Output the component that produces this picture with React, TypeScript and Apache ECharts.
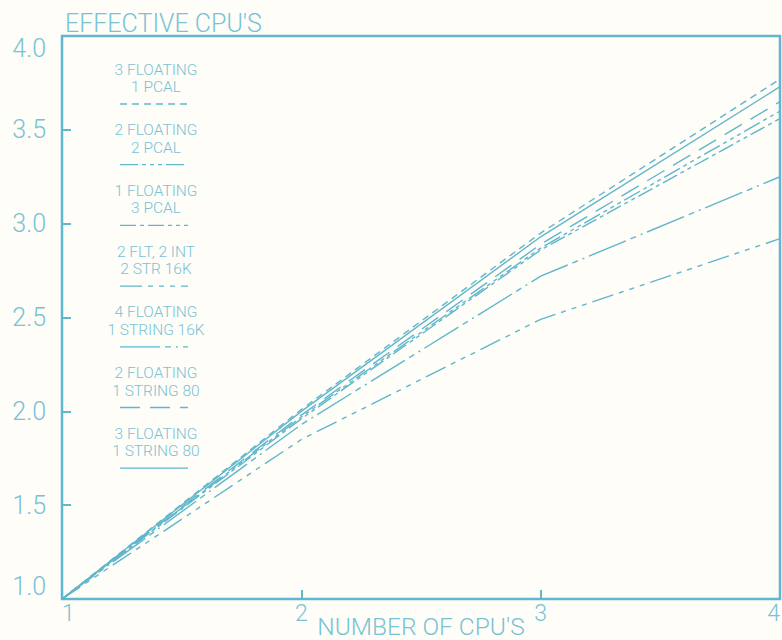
import React, { useEffect, useRef } from "react";
import * as echarts from "echarts";

const xValues = [1, 2, 3, 4];
const seriesNames = [
  "3 FLOATING\n1 PCAL",
  "2 FLOATING\n2 PCAL",
  "1 FLOATING\n3 PCAL",
  "2 FLT, 2 INT\n2 STR 16K",
  "4 FLOATING\n1 STRING 16K",
  "2 FLOATING\n1 STRING 80",
  "3 FLOATING\n1 STRING 80",
];
const float3pcal1 = [1, 2.01, 2.95, 3.77];
const float2pcal2 = [1, 1.97, 2.87, 3.6];
const float1pcal3 = [1, 1.96, 2.86, 3.56];
const flt2int2str2 = [1, 1.85, 2.49, 2.92];
const float4str16k = [1, 1.93, 2.72, 3.25];
const float2str80 = [1, 1.98, 2.89, 3.65];
const float3str80 = [1, 2.0, 2.93, 3.73];
const seriesValues = [
  float3pcal1,
  float2pcal2,
  float1pcal3,
  flt2int2str2,
  float4str16k,
  float2str80,
  float3str80,
];
const dashPatterns: (number[] | "solid")[] = [
  [7, 5],
  [18, 4, 4, 4, 4, 4, 4, 4],
  [16, 4, 4, 4, 16, 4, 4, 4, 4, 4],
  [22, 6, 5, 6, 5, 6, 5, 6],
  [40, 5, 6, 5, 2, 5],
  [20, 10],
  "solid",
];

const LINE = "#5fb6cd";
const TEXT = "#78c2d6";
const FONT = "Roboto, 'DejaVu Sans', sans-serif";

export default function App() {
  const ref = useRef<HTMLDivElement>(null);
  useEffect(() => {
    if (!ref.current) return;
    const chart = echarts.init(ref.current, undefined, { renderer: "svg" });

    const legendGraphics: any[] = [];
    seriesNames.forEach((name, i) => {
      const lineY = 104 + i * 60.7;
      const parts = name.split("\n");
      parts.forEach((p, j) => {
        legendGraphics.push({
          type: "text",
          style: {
            text: p,
            x: 156,
            y: lineY - 34.5 + j * 17.5,
            textAlign: "center",
            textVerticalAlign: "middle",
            font: `300 15.5px ${FONT}`,
            fill: TEXT,
          },
        });
      });
      const dp = dashPatterns[i];
      legendGraphics.push({
        type: "line",
        shape: { x1: 120, y1: lineY, x2: 188, y2: lineY },
        style: {
          stroke: LINE,
          lineWidth: 1.3,
          lineDash: dp === "solid" ? null : dp,
        },
      });
    });

    chart.setOption({
      animation: false,
      backgroundColor: "#fefdf8",
      title: {
        text: "EFFECTIVE CPU'S",
        left: 60,
        top: 6,
        textStyle: { color: TEXT, fontSize: 25, fontWeight: 300, fontFamily: FONT },
      },
      grid: {
        left: 62,
        right: 2,
        top: 36,
        bottom: 41,
        show: true,
        borderColor: LINE,
        borderWidth: 2.5,
        backgroundColor: "transparent",
        outerBoundsMode: "none",
        containLabel: false,
      },
      xAxis: {
        type: "value",
        min: 1,
        max: 4,
        interval: 1,
        name: "NUMBER OF CPU'S",
        nameLocation: "middle",
        nameGap: 15,
        nameMoveOverlap: false,
        nameTextStyle: { color: TEXT, fontSize: 24.5, fontWeight: 300, fontFamily: FONT },
        axisLine: { show: false },
        axisTick: { show: true, inside: true, length: 9, lineStyle: { color: LINE, width: 2 } },
        splitLine: { show: false },
        axisLabel: {
          color: TEXT,
          fontSize: 23,
          fontWeight: 300,
          fontFamily: FONT,
          margin: 3,
          alignMinLabel: "left",
          alignMaxLabel: "right",
        },
      },
      yAxis: {
        type: "value",
        min: 1,
        max: 4,
        interval: 0.5,
        axisLine: { show: false },
        axisTick: { show: true, inside: true, length: 9, lineStyle: { color: LINE, width: 2 } },
        splitLine: { show: false },
        axisLabel: {
          color: TEXT,
          fontSize: 25,
          fontWeight: 300,
          fontFamily: FONT,
          margin: 16,
          formatter: (v: number) => v.toFixed(1),
          verticalAlignMaxLabel: "top",
          verticalAlignMinLabel: "bottom",
        },
      },
      series: seriesNames.map((name, i) => ({
        type: "line",
        name,
        data: xValues.map((x, k) => [x, seriesValues[i][k]]),
        showSymbol: false,
        symbol: "none",
        lineStyle: {
          color: LINE,
          width: 1.4,
          type: dashPatterns[i],
        },
      })),
      graphic: legendGraphics,
    });
    return () => chart.dispose();
  }, []);
  return (
    <div
      ref={ref}
      style={{ position: "fixed", left: 0, top: 0, width: 782, height: 640 }}
    />
  );
}
